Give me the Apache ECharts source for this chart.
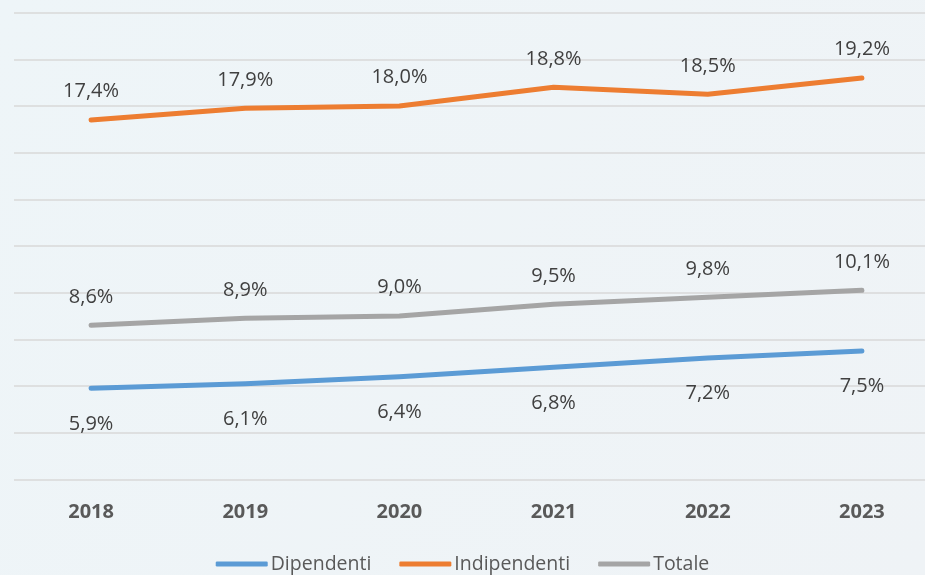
<!DOCTYPE html>
<html>
<head>
<meta charset="utf-8">
<script src="https://cdn.jsdelivr.net/npm/echarts@6/dist/echarts.min.js"></script>
<style>
html,body{margin:0;padding:0;background:#eef4f7;}
#c{width:925px;height:575px;}
</style>
</head>
<body>
<div id="c"></div>
<script>
var categories = ['2018','2019','2020','2021','2022','2023'];
var dipendenti = [5.9, 6.1, 6.4, 6.8, 7.2, 7.5];
var indipendenti = [17.4, 17.9, 18.0, 18.8, 18.5, 19.2];
var totale = [8.6, 8.9, 9.0, 9.5, 9.8, 10.1];

var fmt = function (p) { return p.value.toFixed(1).replace('.', ',') + '%'; };
var labelStyle = { color: '#404040', fontSize: 20, fontFamily: 'Open Sans', formatter: fmt };

function mk(name, data, color, pos, dist) {
  return {
    name: name, type: 'line', data: data,
    symbol: 'circle', symbolSize: 1, showSymbol: true, smooth: false,
    lineStyle: { color: color, width: 5, cap: 'round', join: 'round' },
    itemStyle: { color: color },
    label: Object.assign({ show: true, position: pos, distance: dist }, labelStyle),
    labelLayout: { hideOverlap: false },
    emphasis: { disabled: true }
  };
}

var chart = echarts.init(document.getElementById('c'));
chart.setOption({
  backgroundColor: {
    type: 'linear', x: 0, y: 0, x2: 1, y2: 1,
    colorStops: [{ offset: 0, color: '#eef5f8' }, { offset: 1, color: '#eff3f6' }]
  },
  animation: false,
  grid: { left: 14, width: 925, top: 12.7, height: 466.6, containLabel: false, outerBoundsMode: 'none' },
  xAxis: {
    type: 'category', data: categories, boundaryGap: true,
    axisLine: { show: false }, axisTick: { show: false },
    axisLabel: { color: '#595959', fontSize: 20, fontWeight: 'bold', fontFamily: 'Open Sans', margin: 23 }
  },
  yAxis: {
    type: 'value', min: 2, max: 22, interval: 2,
    axisLabel: { show: false }, axisLine: { show: false }, axisTick: { show: false },
    splitLine: { lineStyle: { color: '#d9d9d9', width: 1.5 } }
  },
  legend: {
    top: 549, left: 'center', itemWidth: 52, itemHeight: 5, itemGap: 28,
    icon: 'roundRect',
    textStyle: { color: '#595959', fontSize: 19.5, fontFamily: 'Open Sans', padding: [0, 0, 0, -2] },
    data: ['Dipendenti', 'Indipendenti', 'Totale']
  },
  series: [
    mk('Dipendenti', dipendenti, '#5b9bd5', 'bottom', 25),
    mk('Indipendenti', indipendenti, '#ed7d31', 'top', 18),
    mk('Totale', totale, '#a5a5a5', 'top', 18)
  ]
});
</script>
</body>
</html>
